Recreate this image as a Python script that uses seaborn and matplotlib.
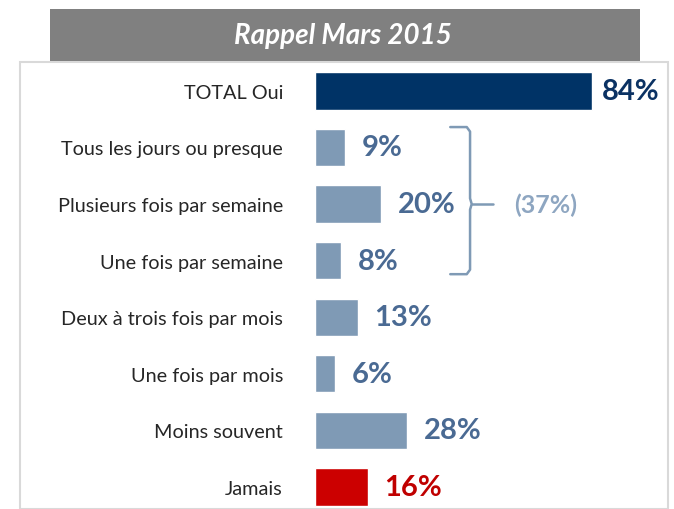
import matplotlib
matplotlib.use("Agg")
import matplotlib.pyplot as plt
import seaborn as sns
import pandas as pd
from matplotlib.patches import Rectangle

categories = ["TOTAL Oui", "Tous les jours ou presque", "Plusieurs fois par semaine",
              "Une fois par semaine", "Deux à trois fois par mois", "Une fois par mois",
              "Moins souvent", "Jamais"]
values = [84, 9, 20, 8, 13, 6, 28, 16]
labels = ["84%", "9%", "20%", "8%", "13%", "6%", "28%", "16%"]
bar_colors = ["#003366", "#7f9ab5", "#7f9ab5", "#7f9ab5", "#7f9ab5", "#7f9ab5", "#7f9ab5", "#cc0000"]
text_colors = ["#0b3263", "#4a6a93", "#4a6a93", "#4a6a93", "#4a6a93", "#4a6a93", "#4a6a93", "#c00000"]
title = "Rappel Mars 2015"
group_label = "(37%)"
group_rows = [1, 3]

sns.set_theme(style="white")
plt.rcParams['font.family'] = ['Lato', 'DejaVu Sans']

df = pd.DataFrame({"cat": categories, "val": values})

fig = plt.figure(figsize=(6.74, 5.10), dpi=100)
W, H = 674, 510

# outer light border box
fig.patches.append(Rectangle((20 / W, 0), 648 / W, (510 - 63) / H, transform=fig.transFigure,
                             fill=False, edgecolor="#d9d9d9", linewidth=1.5))
# title banner
fig.patches.append(Rectangle((50 / W, (510 - 62) / H), 590 / W, 52 / H, transform=fig.transFigure,
                             facecolor="#808080", edgecolor="none"))
fig.text(343 / W, (510 - 36) / H, title, ha="center", va="center", color="white",
         fontsize=20, fontweight="bold", fontstyle="italic")

ax = fig.add_axes([315 / W, 0, (668 - 315) / W, (510 - 63) / H])
sns.barplot(data=df, x="val", y="cat", hue="cat", palette=bar_colors, legend=False,
            width=0.66, ax=ax, saturation=1, orient="h")
ax.set_xlim(0, 107)
ax.set_ylim(7.39, -0.51)
ax.set_xlabel("")
ax.set_ylabel("")
ax.set_xticks([])
ax.tick_params(axis="y", length=0, pad=23, labelsize=14.3, labelcolor="#262626")
for s in ax.spines.values():
    s.set_visible(False)
ax.patch.set_alpha(0)

for i, (v, lab, c) in enumerate(zip(values, labels, text_colors)):
    off = 7 if i == 0 else 12
    ax.annotate(lab, xy=(v, i), xytext=(off, 0), textcoords="offset points",
                ha="left", va="center", fontsize=21, fontweight="bold", color=c)

# bracket for grouped rows
bc = "#7f9ab5"
top = group_rows[0] - 0.36
bot = group_rows[1] + 0.24
mid = (group_rows[0] + group_rows[1]) / 2
x0, x1, x2 = 41, 47, 54
ax.plot([x0, x1 - 1, x1, x1, x1 + 0.5, x1, x1, x1 - 1, x0],
        [top, top, top + 0.08, mid - 0.1, mid, mid + 0.1, bot - 0.08, bot, bot],
        color=bc, lw=1.8, solid_capstyle="round", clip_on=False)
ax.plot([x1 + 0.5, x2], [mid, mid], color=bc, lw=1.8, clip_on=False)
ax.text(x2 + 6.5, mid, group_label, ha="left", va="center", fontsize=18,
        fontweight="bold", color="#8ea6c1")

fig.savefig("out.png", dpi=100)
